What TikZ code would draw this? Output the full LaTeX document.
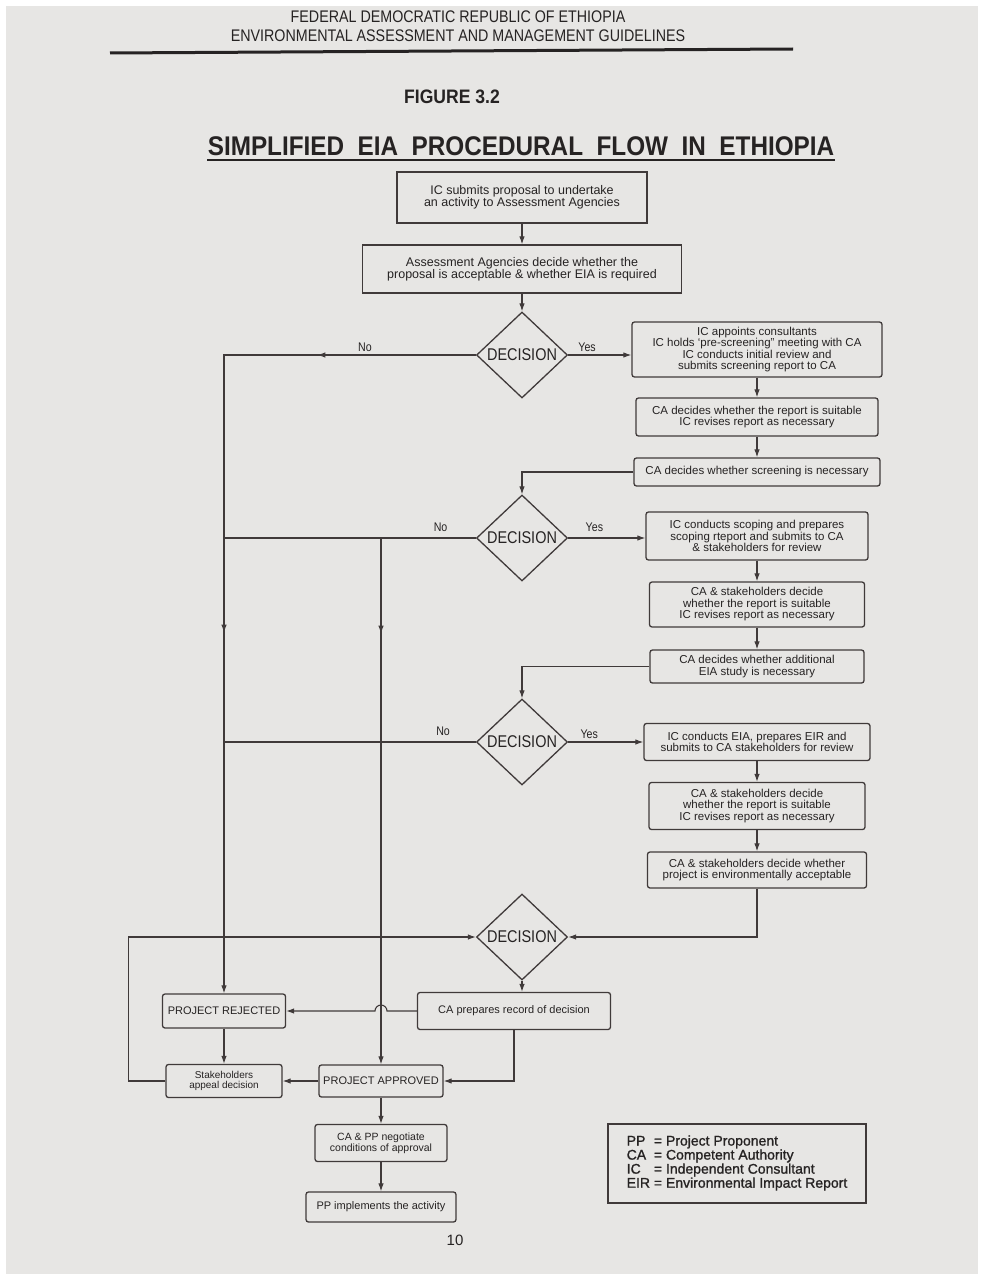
\documentclass[tikz,border=0pt]{standalone}
\usepackage{fontspec}
\setmainfont{Liberation Sans}
\newfontfamily\narrowsf[FakeStretch=0.85]{Liberation Sans}
\newfontfamily\titlesf[FakeStretch=0.9]{Liberation Sans}
\newfontfamily\legendsf[FakeBold=1.2]{Liberation Sans}
\usepackage{tikz}
\usetikzlibrary{shapes,arrows,arrows.meta,positioning,decorations.markings}
\definecolor{paper}{RGB}{231,230,228}
\definecolor{ink}{RGB}{64,58,58}
\definecolor{inkdark}{RGB}{38,35,35}

\begin{document}
\begin{tikzpicture}[
    x=1pt, y=-1pt,
    node distance=60pt,
    auto,
    color=ink,
    line width=1.1pt,
    every node/.style={text=inkdark},
    stage/.style={rectangle, draw=ink, line width=1.3pt, inner sep=0pt, align=center, font=\fontsize{12.5}{12}\selectfont},
    task/.style={rectangle, rounded corners=2.5pt, draw=ink, line width=1.3pt, inner sep=0pt, align=center, font=\fontsize{11.5}{11.5}\selectfont},
    outcome/.style={task, font=\fontsize{11}{11}\selectfont},
    decision/.style={diamond, draw=ink, line width=1.3pt, inner sep=0pt, minimum width=91pt, minimum height=86pt, font=\narrowsf\fontsize{17}{17}\selectfont},
    answer/.style={font=\narrowsf\fontsize{12.5}{12.5}\selectfont, inner sep=3pt},
    boxsize/.style 2 args={minimum width=#1pt, minimum height=#2pt},
    arrow/.style={->, >={Latex[length=8pt, width=5.5pt]}},
    midarrows/.style={postaction={decorate, decoration={markings, #1}}}
]
% Page
\fill[white] (0,0) rectangle (983,1279);
\fill[paper] (6,6) rectangle (978,1274);
\useasboundingbox (0,0) rectangle (983,1279);
% Header
\node[font=\narrowsf\fontsize{16.8}{16.8}\selectfont] (nation) at (458,17) {FEDERAL DEMOCRATIC REPUBLIC OF ETHIOPIA};
\node[font=\narrowsf\fontsize{16.8}{16.8}\selectfont, below of=nation, node distance=19pt] (guide) {ENVIRONMENTAL ASSESSMENT AND MANAGEMENT GUIDELINES};
\draw[line width=3pt, color=inkdark] (110,53) -- (793,49);
\node[font=\titlesf\bfseries\fontsize{19.5}{19.5}\selectfont] (figno) at (452,97) {FIGURE 3.2};
\node[font=\titlesf\bfseries\fontsize{27}{27}\selectfont, inner sep=0pt] (title) at (521,146) {SIMPLIFIED\ \ EIA\ \ PROCEDURAL\ \ FLOW\ \ IN\ \ ETHIOPIA};
\draw[line width=1.8pt, color=inkdark] ([yshift=-4.5pt]title.base west) -- ([yshift=-4.5pt]title.base east);
% Proposal
\node[stage, boxsize={250}{51}] (submit) at (522,197.5) {IC submits proposal to undertake\\an activity to Assessment Agencies};
\node[stage, boxsize={319}{48}, below of=submit, node distance=71.5pt] (accept) {Assessment Agencies decide whether the\\proposal is acceptable \& whether EIA is required};
% Screening
\node[decision, below of=accept, node distance=86pt] (screendec) {DECISION};
\node[task, boxsize={250}{55}, right of=screendec, node distance=235pt, yshift=5.5pt] (consult) {IC appoints consultants\\IC holds `pre-screening" meeting with CA\\IC conducts initial review and\\submits screening report to CA};
\node[task, boxsize={242}{38}, below of=consult, node distance=67.5pt] (review1) {CA decides whether the report is suitable\\IC revises report as necessary};
\node[task, boxsize={246}{28}, below of=review1, node distance=55pt] (screenq) {CA decides whether screening is necessary};
% Scoping
\node[decision, below of=screendec, node distance=183pt] (scopedec) {DECISION};
\node[task, boxsize={222}{48}, right of=scopedec, node distance=235pt, yshift=2pt] (scoping) {IC conducts scoping and prepares\\scoping rteport and submits to CA\\\& stakeholders for review};
\node[task, boxsize={215}{45}, below of=scoping, node distance=68.5pt] (review2) {CA \& stakeholders decide\\whether the report is suitable\\IC revises report as necessary};
\node[task, boxsize={214}{33}, below of=review2, node distance=62pt] (studyq) {CA decides whether additional\\EIA study is necessary};
% EIA study
\node[decision, below of=scopedec, node distance=204pt] (eiadec) {DECISION};
\node[task, boxsize={226}{37}, right of=eiadec, node distance=235pt] (eia) {IC conducts EIA, prepares EIR and\\submits to CA stakeholders for review};
\node[task, boxsize={216}{47}, below of=eia, node distance=64pt] (review3) {CA \& stakeholders decide\\whether the report is suitable\\IC revises report as necessary};
\node[task, boxsize={219}{36}, below of=review3, node distance=64pt] (acceptq) {CA \& stakeholders decide whether\\project is environmentally acceptable};
% Final decision
\node[decision, below of=eiadec, node distance=195pt] (finaldec) {DECISION};
\node[outcome, boxsize={193}{37}, below of=finaldec, node distance=74pt, xshift=-8pt] (record) {CA prepares record of decision};
\node[outcome, boxsize={123}{34}, left of=record, node distance=290pt] (rejected) {PROJECT REJECTED};
\node[outcome, boxsize={116}{33}, below of=rejected, node distance=70pt, font=\fontsize{10}{10.5}\selectfont] (appeal) {Stakeholders\\appeal decision};
\node[outcome, boxsize={124}{32}, right of=appeal, node distance=157pt] (approved) {PROJECT APPROVED};
\node[outcome, boxsize={132}{37}, below of=approved, node distance=62pt, font=\fontsize{10.5}{11}\selectfont] (negotiate) {CA \& PP negotiate\\conditions of approval};
\node[outcome, boxsize={150}{30}, below of=negotiate, node distance=64pt] (implement) {PP implements the activity};
% Legend
\node[rectangle, draw=ink, line width=1.3pt, boxsize={258}{79}, inner sep=0pt, font=\legendsf\fontsize{14}{13}\selectfont] (legend) at (737,1163.5) {\begin{tabular}{@{}l@{ }l@{}}PP & = Project Proponent\\CA & = Competent Authority\\IC & = Independent Consultant\\EIR & = Environmental Impact Report\end{tabular}};
\node[font=\fontsize{15}{15}\selectfont] (pagenum) at (455,1240) {10};
% Arrows
\draw[arrow] (submit) -- (accept);
\draw[arrow] (accept) -- (screendec);
\draw[arrow] (screendec.east) -- node[answer, above, pos=0.3] {Yes} (screendec.east -| consult.west);
\draw[arrow, midarrows={mark=at position 158.5pt with {\arrow{>}}, mark=at position 529.5pt with {\arrow{>}}}] (screendec.west) -| node[answer, above, pos=0.22] {No} (rejected.north);
\draw[arrow] (consult) -- (review1);
\draw[arrow] (review1) -- (screenq);
\draw[arrow] (screenq.west) -| (scopedec.north);
\draw[arrow] (scopedec.east) -- node[answer, above, pos=0.34, yshift=3pt] {Yes} (scopedec.east -| scoping.west);
\draw (scopedec.west) -- node[answer, above, pos=0.14, yshift=3pt] {No} (scopedec.west -| rejected.north);
\draw[arrow, midarrows={mark=at position 190.5pt with {\arrow{>}}}] (scopedec.west) -| (approved.north);
\draw[arrow] (scoping) -- (review2);
\draw[arrow] (review2) -- (studyq);
\draw[arrow] (studyq.west) -| (eiadec.north);
\draw[arrow] (eiadec.east) -- node[answer, above, pos=0.28] {Yes} (eia.west);
\draw (eiadec.west) -- node[answer, above, pos=0.13, yshift=3pt] {No} (eiadec.west -| rejected.north);
\draw[arrow] (eia) -- (review3);
\draw[arrow] (review3) -- (acceptq);
\draw[arrow] (acceptq.south) |- (finaldec.east);
\draw[arrow] (finaldec.south) -- (finaldec.south |- record.north);
\draw[arrow] (record.west) -- ([xshift=6pt]approved.north |- record.west) arc[start angle=0, end angle=180, radius=6pt] -- (rejected.east);
\draw[arrow] (record.south) |- (approved.east);
\draw[arrow] (rejected) -- (appeal);
\draw[arrow] (approved) -- (appeal);
\draw[arrow] (appeal.west) -- ++(-37,0) |- (finaldec.west);
\draw[arrow] (approved) -- (negotiate);
\draw[arrow] (negotiate) -- (implement);
\end{tikzpicture}
\end{document}
